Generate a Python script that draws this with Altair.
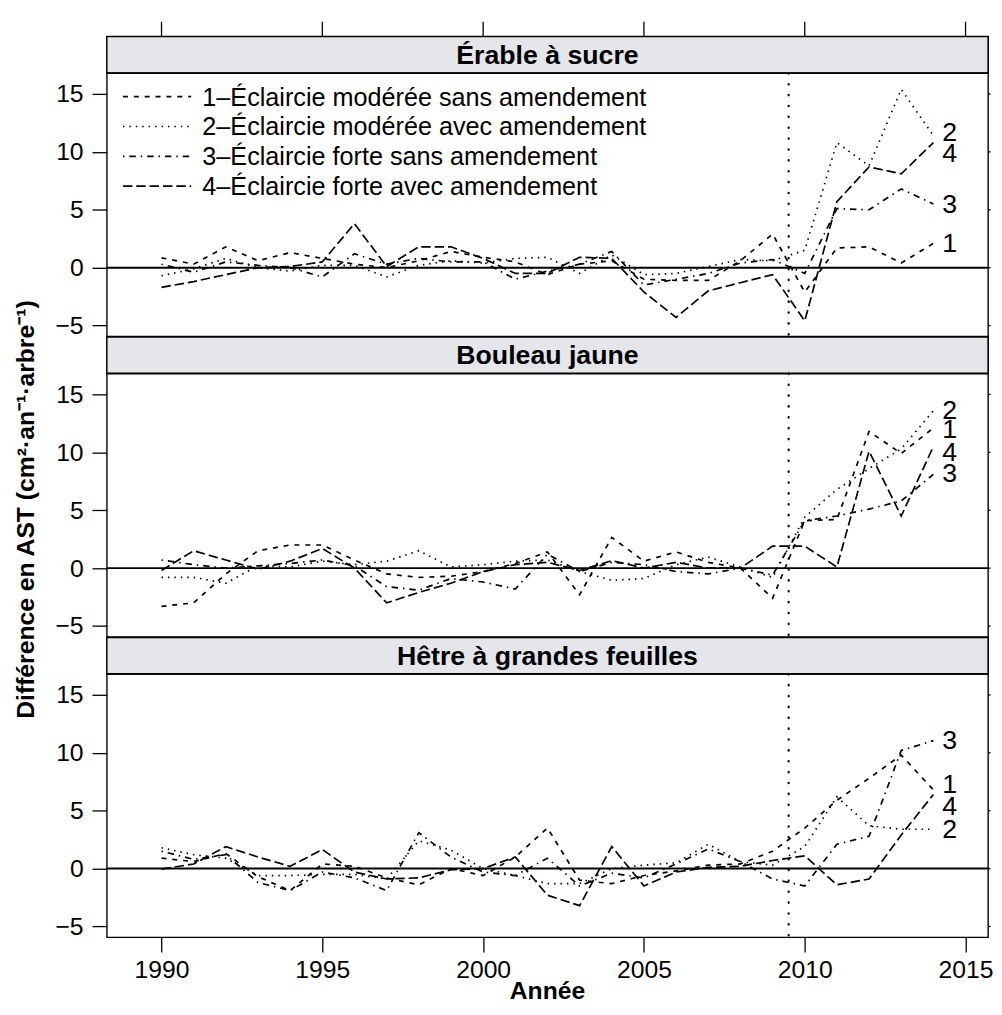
import altair as alt
import pandas as pd

# ---------------- data ----------------
years = list(range(1990, 2015))
species = ["Érable à sucre", "Bouleau jaune", "Hêtre à grandes feuilles"]
treatments = [
    "1–Éclaircie modérée sans amendement",
    "2–Éclaircie modérée avec amendement",
    "3–Éclaircie forte sans amendement",
    "4–Éclaircie forte avec amendement",
]
treat_num = ["1", "2", "3", "4"]

erable_1 = [0.85, 0.3, 1.8, 0.6, 1.3, 0.8, 0.3, 0.0, 0.6, 1.4, 0.9, 0.5, -0.6, 0.3, 0.6, -1.0, -1.1, -1.1, 0.6, 2.9, -2.1, 1.7, 1.8, 0.4, 2.1]
erable_2 = [-0.7, -0.1, 0.8, 0.0, -0.3, 0.2, 0.2, -0.8, 0.2, 0.6, 0.4, 0.8, 0.9, -0.5, 1.1, -0.6, -0.5, 0.1, 0.7, 0.6, 1.5, 10.8, 8.8, 15.4, 11.4]
erable_3 = [0.3, -0.4, 0.5, 0.2, 0.0, -0.8, 1.2, 0.3, 0.8, 0.5, 0.5, -1.0, -0.3, 0.3, 1.4, -1.5, -1.0, -0.5, 0.4, 0.7, -0.5, 5.1, 5.0, 6.8, 5.5]
erable_4 = [-1.7, -1.2, -0.6, 0.0, 0.1, 0.5, 3.8, 0.1, 1.8, 1.8, 0.8, -0.5, -0.5, 0.9, 0.8, -2.1, -4.3, -2.0, -1.3, -0.6, -4.6, 5.7, 8.7, 8.1, 10.8]

bouleau_1 = [-3.3, -3.0, -0.5, 1.5, 2.0, 2.0, 0.7, -0.5, -0.8, -0.7, -0.3, 0.4, 1.4, -2.3, 2.65, 0.6, 1.4, 0.5, 0.0, -2.6, 4.1, 4.2, 11.8, 9.9, 12.1]
bouleau_2 = [-0.8, -0.8, -1.3, 0.2, 0.1, 0.6, 0.3, 0.6, 1.5, 0.1, 0.3, 0.6, 0.7, -0.3, -1.05, -0.9, 0.3, 0.95, 0.1, -0.8, 4.4, 6.8, 8.6, 10.3, 13.6]
bouleau_3 = [0.7, 0.3, 0.0, 0.2, 0.4, 0.7, 0.2, -1.6, -1.9, -0.9, -1.2, -1.8, 1.2, -0.3, 0.5, 0.3, -0.3, -0.5, 0.0, -0.6, 4.1, 4.5, 5.1, 5.8, 8.1]
bouleau_4 = [-0.2, 1.5, 0.7, -0.1, 0.6, 1.7, 0.0, -3.0, -2.1, -1.3, -0.3, 0.3, 0.5, -0.2, 0.65, 0.0, 0.5, 0.0, 0.0, 1.9, 1.9, 0.1, 10.1, 4.5, 10.5]

hetre_1 = [0.9, 0.6, 1.3, -0.7, -1.9, 0.4, 0.2, -0.8, -1.4, 0.0, -0.6, 1.0, 3.5, -1.0, -1.3, -0.6, -0.2, 0.3, 0.4, 1.5, 3.5, 5.9, 7.8, 9.8, 6.8]
hetre_2 = [1.8, 1.2, 0.9, -0.6, -0.6, -0.5, -0.5, -0.9, 2.4, 1.6, 0.0, -0.6, -1.3, -1.3, 0.0, 0.3, 0.5, 2.1, 0.6, 0.3, 1.9, 6.2, 3.7, 3.4, 3.4]
hetre_3 = [1.5, 0.8, 1.2, -1.2, -1.9, -0.3, -0.8, -1.9, 3.1, 1.0, -0.3, -0.6, 0.9, -1.5, -0.4, -0.8, 0.4, 1.7, 0.6, -0.9, -1.5, 2.1, 2.8, 10.2, 11.05]
hetre_4 = [-0.05, 0.4, 1.9, 1.0, 0.2, 1.65, -0.3, -0.9, -0.8, -0.1, 0.0, 1.0, -2.3, -3.2, 1.9, -1.5, -0.3, 0.1, 0.2, 0.7, 1.1, -1.4, -0.9, 2.9, 6.4]

# end-of-line label heights
labels_erable = [2.0, 11.6, 5.4, 9.8]
labels_bouleau = [11.9, 13.6, 8.1, 9.9]
labels_hetre = [7.2, 3.36, 11.05, 5.35]

x_ticks = [1990, 1995, 2000, 2005, 2010, 2015]
y_ticks = [-5, 0, 5, 10, 15]
treatment_year = 2009.5
x_domain = [1988.3, 2015.7]
y_domain = [-5.93, 16.8]
y_title = "Différence en AST (cm²·an⁻¹·arbre⁻¹)"
x_title = "Année"

series = {
    species[0]: [erable_1, erable_2, erable_3, erable_4],
    species[1]: [bouleau_1, bouleau_2, bouleau_3, bouleau_4],
    species[2]: [hetre_1, hetre_2, hetre_3, hetre_4],
}
label_heights = {species[0]: labels_erable, species[1]: labels_bouleau, species[2]: labels_hetre}

rows = []
for sp, lists in series.items():
    for t, vals in zip(treatments, lists):
        for yr, v in zip(years, vals):
            rows.append({"species": sp, "treatment": t, "year": yr, "value": v})
df = pd.DataFrame(rows)

lrows = []
for sp, hs in label_heights.items():
    for n, h in zip(treat_num, hs):
        lrows.append({"species": sp, "num": n, "year": years[-1], "label_y": h})
ldf = pd.DataFrame(lrows)

# ---------------- style ----------------
FONT = "Liberation Sans"
W = 891.6
PH = 266.3
SH = 36.7
STRIP = "#e4e6e9"
dashes = [[5, 6], [1.5, 5], [1.5, 5, 6.5, 5], [9.5, 4]]

xscale = alt.Scale(domain=x_domain, nice=False, zero=False)
yscale = alt.Scale(domain=y_domain, nice=False, zero=False)
dash_scale = alt.Scale(domain=treatments, range=dashes)


def strip(i):
    d = pd.DataFrame({"species": [species[i]]})
    base = alt.Chart(d)
    rect = base.mark_rect(fill=STRIP, stroke="black", strokeWidth=1.4).encode(
        x=alt.value(0), x2=alt.value(W), y=alt.value(0), y2=alt.value(SH)
    )
    txt = base.mark_text(font=FONT, fontSize=27, fontWeight="bold", color="black",
                         baseline="middle", align="center").encode(
        x=alt.value(W / 2), y=alt.value(SH / 2 + 1), text="species:N"
    )
    layers = [rect, txt]
    if i == 0:
        tdf = pd.DataFrame({"tick": x_ticks})
        ticks = alt.Chart(tdf).mark_rule(color="black", strokeWidth=1.3).encode(
            x=alt.X("tick:Q", scale=xscale, axis=None), y=alt.value(-15), y2=alt.value(0)
        )
        anchor = alt.Chart(tdf.head(1)).mark_rule(opacity=0).encode(
            x=alt.value(-98.7), x2=alt.value(-98.7), y=alt.value(-22), y2=alt.value(-21)
        )
        layers += [ticks, anchor]
    return alt.layer(*layers).properties(width=W, height=SH)


def panel(i):
    sp = species[i]
    d = df[df.species == sp]
    if i == 2:
        xaxis = alt.Axis(values=x_ticks, format="d", tickSize=15, labelPadding=6, title=None,
                         labelFlush=False, labelFontSize=25, domain=False, grid=False,
                         tickColor="black", tickWidth=1.3, labelColor="black", labelFont=FONT)
    else:
        xaxis = None
    yaxis = alt.Axis(values=y_ticks, tickSize=15, labelPadding=9, title=None, domain=False,
                     grid=False, labelFontSize=25, tickColor="black", tickWidth=1.3,
                     labelColor="black", labelFont=FONT)

    zero = alt.Chart(pd.DataFrame({"value": [0]})).mark_rule(color="black", strokeWidth=2).encode(
        y=alt.Y("value:Q", scale=yscale, axis=yaxis)
    )
    vline = alt.Chart(pd.DataFrame({"year": [treatment_year]})).mark_rule(
        color="black", strokeWidth=2.2, strokeDash=[0.5, 10.5], strokeCap="round"
    ).encode(x=alt.X("year:Q", scale=xscale, axis=xaxis))
    lines = alt.Chart(d).mark_line(color="black", strokeWidth=1.7).encode(
        x=alt.X("year:Q", scale=xscale, axis=xaxis),
        y=alt.Y("value:Q", scale=yscale, axis=yaxis),
        strokeDash=alt.StrokeDash("treatment:N", scale=dash_scale, legend=None),
        detail="treatment:N",
    )
    labs = alt.Chart(ldf[ldf.species == sp]).mark_text(
        font=FONT, fontSize=27, align="left", baseline="middle", dx=9, color="black"
    ).encode(
        x=alt.X("year:Q", scale=xscale, axis=xaxis),
        y=alt.Y("label_y:Q", scale=yscale, axis=yaxis),
        text="num:N",
    )
    rticks = alt.Chart(pd.DataFrame({"tick": y_ticks})).mark_rule(color="black", strokeWidth=1.3).encode(
        y=alt.Y("tick:Q", scale=yscale, axis=yaxis), x=alt.value(W), x2=alt.value(W + 2.5)
    )
    layers = [zero, vline, lines, labs, rticks]

    if i == 0:
        leg_y0 = 23.8
        leg_dy = 30.2
        for k, t in enumerate(treatments):
            ld = pd.DataFrame({"treatment": [t]})
            yy = leg_y0 + k * leg_dy
            layers.append(
                alt.Chart(ld).mark_rule(color="black", strokeWidth=1.7, strokeDash=dashes[k]).encode(
                    x=alt.value(16.3), x2=alt.value(85.3), y=alt.value(yy)
                )
            )
            layers.append(
                alt.Chart(ld).mark_text(font=FONT, fontSize=25.5, align="left", baseline="middle",
                                        color="black").encode(
                    x=alt.value(96.6), y=alt.value(yy + 1), text="treatment:N"
                )
            )
    if i == 1:
        layers.append(
            alt.Chart(pd.DataFrame({"t": [y_title]})).mark_text(
                font=FONT, fontSize=25, fontWeight="bold", angle=270, align="center",
                baseline="middle", color="black"
            ).encode(x=alt.value(-81.7), y=alt.value(137.6), text="t:N")
        )
    if i == 2:
        layers.append(
            alt.Chart(pd.DataFrame({"t": [x_title]})).mark_text(
                font=FONT, fontSize=25, fontWeight="bold", align="center",
                baseline="middle", color="black"
            ).encode(x=alt.value(W / 2), y=alt.value(320.3), text="t:N")
        )
    return alt.layer(*layers).properties(width=W, height=PH)


chart = alt.vconcat(
    strip(0), panel(0), strip(1), panel(1), strip(2), panel(2),
    spacing=0, bounds="flush",
).properties(padding=0).configure(font=FONT).configure_view(
    stroke="black", strokeWidth=1.4
)

chart.save("out.html", embed_options={"renderer": "svg", "actions": False})
